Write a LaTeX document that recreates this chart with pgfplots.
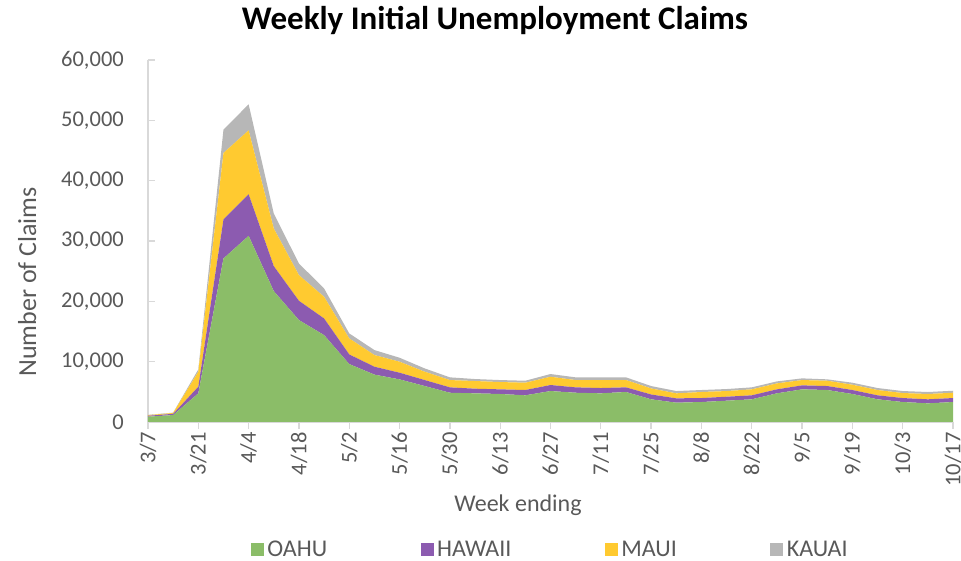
\documentclass[border=0pt]{standalone}
\usepackage{pgfplots}
\pgfplotsset{compat=1.18}
\usepackage{pgfplotstable}
\usepackage{fontspec}
\setmainfont{Carlito}
\definecolor{oahu}{RGB}{139,189,104}
\definecolor{hawaii}{RGB}{140,91,176}
\definecolor{maui}{RGB}{255,202,48}
\definecolor{kauai}{RGB}{183,183,183}
\definecolor{txt}{RGB}{89,89,89}
\definecolor{axl}{RGB}{217,217,217}
\pgfplotstableread{
w O H M K
0 880 150 100 50
1 1150 200 150 50
2 4750 1100 2480 390
3 27100 6460 11030 3870
4 30850 6900 10590 4310
5 21690 4140 6240 2480
6 16890 3200 4250 1930
7 14400 2760 3590 1380
8 9600 1600 2650 830
9 7850 1310 1940 820
10 7060 1110 1820 660
11 5960 990 1380 550
12 4850 890 1210 450
13 4750 770 1270 330
14 4640 770 1210 330
15 4420 880 1210 330
16 5130 1000 1370 450
17 4850 890 1210 450
18 4750 880 1320 450
19 4970 770 1210 450
20 3760 800 1000 400
21 3200 720 830 380
22 3310 660 1000 330
23 3530 660 940 330
24 3760 660 990 330
25 4750 660 990 330
26 5410 660 880 280
27 5300 660 880 230
28 4640 660 880 330
29 3760 660 880 330
30 3310 660 830 330
31 3090 670 880 330
32 3310 660 880 330
}\claims
\begin{document}
\begin{tikzpicture}
\begin{axis}[
  name=ax,
  scale only axis,
  width=805pt, height=362pt,
  xmin=0, xmax=32, ymin=0, ymax=60000,
  stack plots=y,
  axis x line=bottom, axis y line=left,
  axis line style={axl, line width=1.3pt, -},
  xtick={0,2,...,32},
  xticklabels={3/7,3/21,4/4,4/18,5/2,5/16,5/30,6/13,6/27,7/11,7/25,8/8,8/22,9/5,9/19,10/3,10/17},
  ytick={0,10000,...,60000},
  scaled y ticks=false,
  /pgf/number format/.cd, 1000 sep={,}, assume math mode=true,
  /pgfplots/.cd,
  tick align=inside,
  major tick length=7pt,
  tick style={axl, line width=1.3pt},
  x tick style={yshift=-7pt},
  ticklabel style={font=\fontsize{22.5}{26}\selectfont, text=txt},
  xticklabel style={rotate=90, anchor=east, inner sep=0pt, inner xsep=10pt},
  yticklabel style={anchor=east, inner sep=0pt, inner xsep=24pt},
  title={Weekly Initial Unemployment Claims},
  title style={at={(axis description cs:0.431,1.093)}, anchor=center, font=\fontsize{33}{38}\selectfont\bfseries, text=black},
  ylabel={Number of Claims},
  ylabel style={at={(axis description cs:-0.150,0.387)}, anchor=center, font=\fontsize{26}{30}\selectfont, text=txt},
  xlabel={Week ending},
  xlabel style={at={(axis description cs:0.4596,-0.229)}, anchor=center, font=\fontsize{24}{28}\selectfont, text=txt},
  legend columns=4,
  legend style={at={(axis description cs:0.5006,-0.351)}, anchor=center, draw=none, fill=none,
    font=\fontsize{24}{28}\selectfont, text=txt,
    /tikz/every even column/.append style={column sep=90pt},
    nodes={inner xsep=3.5pt}},
  legend image code/.code={\fill[#1] (0pt,-6.5pt) rectangle (13pt,6.5pt);},
]
\addplot[fill=oahu, draw=none] table[x=w, y=O] {\claims} \closedcycle;
\addlegendentry{OAHU}
\addplot[fill=hawaii, draw=none] table[x=w, y=H] {\claims} \closedcycle;
\addlegendentry{HAWAII}
\addplot[fill=maui, draw=none] table[x=w, y=M] {\claims} \closedcycle;
\addlegendentry{MAUI}
\addplot[fill=kauai, draw=none] table[x=w, y=K] {\claims} \closedcycle;
\addlegendentry{KAUAI}
\end{axis}
\pgfresetboundingbox
\path[use as bounding box] ([shift={(-148pt,-139pt)}]ax.south west) rectangle ([shift={(8pt,60pt)}]ax.north east);
\end{tikzpicture}
\end{document}
